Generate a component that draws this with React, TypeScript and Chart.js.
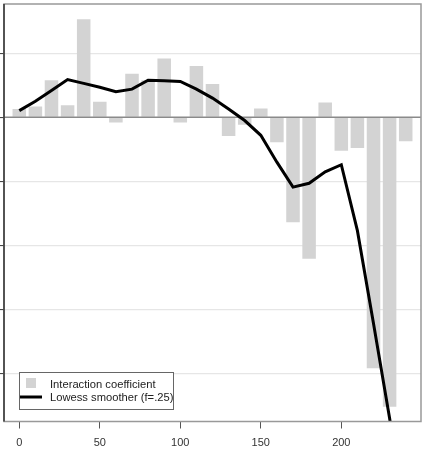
import React, { useEffect, useRef } from "react";
import { Chart, registerables } from "chart.js";

Chart.register(...registerables);

const xValues = [0, 10, 20, 30, 40, 50, 60, 70, 80, 90, 100, 110, 120, 130, 140, 150, 160, 170, 180, 190, 200, 210, 220, 230, 240];
const coefficients = [0.13, 0.17, 0.58, 0.19, 1.53, 0.245, -0.08, 0.68, 0.58, 0.92, -0.08, 0.8, 0.52, -0.29, -0.115, 0.14, -0.39, -1.64, -2.21, 0.23, -0.52, -0.48, -3.92, -4.52, -0.375];
const lowess = [0.105, 0.25, 0.42, 0.59, 0.53, 0.47, 0.4, 0.44, 0.58, 0.57, 0.56, 0.44, 0.3, 0.13, -0.05, -0.28, -0.7, -1.09, -1.03, -0.85, -0.74, -1.77, -3.22, -4.7, -6.3];
const xTickValues = [0, 50, 100, 150, 200];
const yGridValues = [-4, -3, -2, -1, 0, 1];
const legendLabels = ["Interaction coefficient", "Lowess smoother (f=.25)"];

const FONT = "'Liberation Sans', Arial, sans-serif";

const framePlugin = {
  id: "frame",
  afterDatasetDraw(chart: any, args: any) {
    if (args.index !== 1) return;
    const { ctx, chartArea, scales } = chart;
    const y0 = scales.y.getPixelForValue(0);
    ctx.save();
    ctx.strokeStyle = "#8a8a8a";
    ctx.lineWidth = 1.5;
    ctx.beginPath();
    ctx.moveTo(chartArea.left, y0);
    ctx.lineTo(chartArea.right, y0);
    ctx.stroke();
    ctx.restore();
  },
  afterDraw(chart: any) {
    const { ctx, chartArea } = chart;
    const { left, top, right, bottom } = chartArea;
    ctx.save();
    ctx.strokeStyle = "#999999";
    ctx.lineWidth = 1.5;
    ctx.strokeRect(left, top, right - left, bottom - top);
    ctx.strokeStyle = "#333333";
    ctx.beginPath();
    ctx.moveTo(left, top);
    ctx.lineTo(left, bottom);
    ctx.stroke();

    // legend
    const bx = left + 15;
    const by = bottom - 49.5;
    const bw = 154;
    const bh = 37;
    ctx.fillStyle = "#ffffff";
    ctx.fillRect(bx, by, bw, bh);
    ctx.strokeStyle = "#666666";
    ctx.lineWidth = 1;
    ctx.strokeRect(bx + 0.5, by + 0.5, bw, bh);
    ctx.fillStyle = "#d3d3d3";
    ctx.fillRect(bx + 7, by + 6, 10, 10);
    ctx.strokeStyle = "#000000";
    ctx.lineWidth = 3;
    ctx.beginPath();
    ctx.moveTo(bx + 1, by + 25);
    ctx.lineTo(bx + 23, by + 25);
    ctx.stroke();
    ctx.fillStyle = "#222222";
    ctx.font = `11.2px ${FONT}`;
    ctx.textBaseline = "middle";
    ctx.textAlign = "left";
    ctx.fillText(legendLabels[0], bx + 31, by + 13);
    ctx.fillText(legendLabels[1], bx + 31, by + 25.5);
    ctx.restore();
  },
};

export default function App() {
  const canvasRef = useRef<HTMLCanvasElement | null>(null);

  useEffect(() => {
    document.body.style.margin = "0";
    const canvas = canvasRef.current;
    if (!canvas) return;
    const chart = new Chart(canvas, {
      type: "bar",
      data: {
        datasets: [
          {
            type: "line",
            label: legendLabels[1],
            data: xValues.map((x, i) => ({ x, y: lowess[i] })),
            borderColor: "#000000",
            borderWidth: 3,
            pointRadius: 0,
            tension: 0,
            order: 0,
          } as any,
          {
            type: "bar",
            label: legendLabels[0],
            data: xValues.map((x, i) => ({ x, y: coefficients[i] })),
            backgroundColor: "#d3d3d3",
            borderWidth: 0,
            categoryPercentage: 1,
            barPercentage: 0.84,
            order: 1,
          } as any,
        ],
      },
      options: {
        responsive: false,
        animation: false,
        maintainAspectRatio: false,
        layout: { padding: { top: 4, right: 3, bottom: 0, left: 0 } },
        plugins: { legend: { display: false }, tooltip: { enabled: false } },
        scales: {
          x: {
            type: "linear",
            min: -9.5,
            max: 249.5,
            offset: false,
            afterBuildTicks: (scale: any) => {
              scale.ticks = xTickValues.map((v) => ({ value: v }));
            },
            afterFit: (scale: any) => {
              scale.height = 29.5;
            },
            grid: {
              offset: false,
              drawOnChartArea: false,
              drawTicks: true,
              tickLength: 7,
              tickColor: "#555555",
              tickWidth: 1,
            },
            border: { display: false },
            ticks: {
              padding: 8,
              color: "#333333",
              font: { family: FONT, size: 11 },
              maxRotation: 0,
            },
          },
          y: {
            type: "linear",
            min: -4.75,
            max: 1.77,
            afterBuildTicks: (scale: any) => {
              scale.ticks = yGridValues.map((v) => ({ value: v }));
            },
            grid: {
              color: (c: any) => (c.tick && c.tick.value === 0 ? "rgba(0,0,0,0)" : "#e6e6e6"),
              lineWidth: 1.2,
              drawTicks: true,
              tickLength: 4,
              tickColor: "#333333",
              tickWidth: 1,
            },
            border: { display: false },
            ticks: { display: false },
          },
        },
      },
      plugins: [framePlugin],
    });
    return () => chart.destroy();
  }, []);

  return (
    <div style={{ width: 424, height: 451 }}>
      <canvas ref={canvasRef} width={424} height={451} style={{ display: "block" }} />
    </div>
  );
}
